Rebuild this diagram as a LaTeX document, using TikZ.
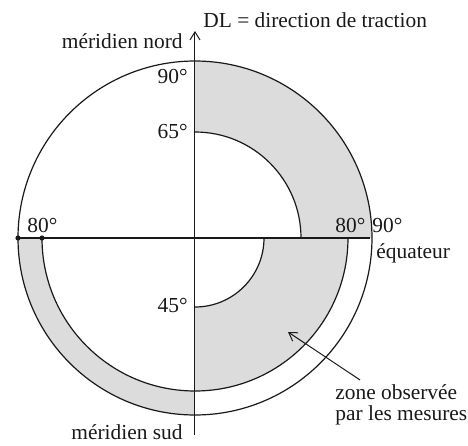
\documentclass[tikz,border=0pt]{standalone}
\usepackage{fontspec}
\setmainfont{Liberation Serif}
\usetikzlibrary{positioning,arrows.meta,calc}
\definecolor{ZoneGray}{RGB}{220,220,220}
\definecolor{InkBlack}{RGB}{25,25,25}
\tikzset{
  axisline/.style={draw=InkBlack,line width=0.5pt},
  equator/.style={draw=InkBlack,line width=1pt},
  ring/.style={draw=InkBlack,line width=0.6pt},
  zone/.style={fill=ZoneGray},
  lbl/.style={inner sep=0pt,text=InkBlack,font=\fontsize{10.7}{10.9}\selectfont},
  pointer/.style={-{Straight Barb[length=4pt,width=5pt]},draw=InkBlack,line width=0.5pt},
  pole/.style={circle,fill=InkBlack,inner sep=0pt,minimum size=2.6pt}
}

\begin{document}
\begin{tikzpicture}[x=0.5pt,y=0.5pt]
  \useasboundingbox (-195,-208) rectangle (273,238);
  % observed zone
  \fill[zone] (177,0) arc (0:90:177) -- (0,106) arc (90:0:106) -- cycle;
  \fill[zone] (69,0) -- (153,0) arc (0:-90:153) -- (0,-69) arc (-90:0:69) -- cycle;
  \fill[zone] (-177,0) arc (180:270:177) -- (0,-153) arc (270:180:153) -- cycle;
  % circles of latitude
  \draw[ring] (0,0) circle (177);
  \draw[ring] (0,106) arc (90:0:106);
  \draw[ring] (-153,0) arc (180:360:153);
  \draw[ring] (0,-69) arc (-90:0:69);
  % axes
  \node[pole] (d90) at (-177,0) {};
  \node[pole] (d80) at (-153,0) {};
  \coordinate (eqE) at (175,0);
  \coordinate (south) at (0,-197);
  \coordinate (north) at (0,207);
  \draw[equator] (d90.center) -- (eqE);
  \draw[axisline,-{Straight Barb[length=4pt,width=5pt]}] (south) -- (north);
  % labels
  \node[lbl,anchor=base west] (dl) at (8,211) {DL = direction de traction};
  \node[lbl,anchor=base east] (nord) at (-12,190) {méridien nord};
  \node[lbl,anchor=base east] (t90) at (-7,155) {90°};
  \node[lbl,anchor=base east] (t65) at (-7,100) {65°};
  \node[lbl,anchor=base west] (l80) at (-168,6) {80°};
  \node[lbl,anchor=base west] (r80) at (140,6) {80°};
  \node[lbl,anchor=base west] (r90) at (177,6) {90°};
  \node[lbl,anchor=base west] (equ) at (181,-20) {équateur};
  \node[lbl,anchor=base east] (t45) at (-7,-74) {45°};
  \node[lbl,anchor=base east] (sud) at (-12,-202) {méridien sud};
  \node[lbl,anchor=base west,align=left] (zonetxt) at (140,-183) {zone observée\\par les mesures};
  \coordinate (tip) at (93,-94);
  \draw[pointer] ($(zonetxt.north west)+(25,4)$) -- (tip);
\end{tikzpicture}
\end{document}
